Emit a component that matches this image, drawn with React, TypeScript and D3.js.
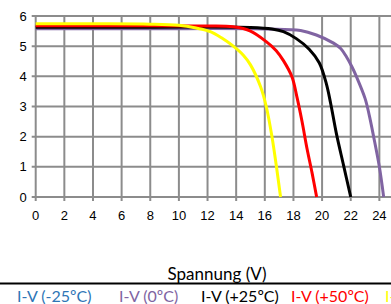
import React, { useEffect, useRef } from 'react';
import * as d3 from 'd3';

// I-V curves (voltage V, current A)
const voltsP75 = [0, 4, 8, 10, 11.2, 12.2, 13.0, 13.8, 14.5, 15.0, 15.7, 16.1, 16.5, 16.8, 17.1];
const ampsP75 = [5.74, 5.74, 5.73, 5.69, 5.6, 5.48, 5.27, 5.0, 4.7, 4.38, 3.66, 3.0, 2.0, 1.05, 0];

const voltsP50 = [0, 6, 12, 13.8, 15, 16.1, 16.8, 17.3, 17.9, 18.25, 18.6, 18.95, 19.3, 19.62];
const ampsP50 = [5.68, 5.68, 5.67, 5.64, 5.5, 5.15, 4.85, 4.52, 3.98, 3.3, 2.5, 1.6, 0.8, 0];

const voltsP25 = [0, 8, 15, 16.5, 17.3, 18.2, 19.1, 19.8, 20.3, 20.6, 21.0, 21.5, 22.0];
const ampsP25 = [5.63, 5.63, 5.62, 5.57, 5.48, 5.25, 4.9, 4.45, 3.75, 3.1, 2.1, 1.05, 0];

const volts0 = [0, 8, 16.1, 18.5, 19.6, 20.8, 21.3, 21.7, 22.1, 22.4, 23.0, 23.3, 23.6, 24.0, 24.3];
const amps0 = [5.58, 5.58, 5.57, 5.52, 5.37, 5.1, 4.92, 4.65, 4.3, 3.99, 3.27, 2.7, 2.0, 1.0, 0];

const legendLabels = ['I-V (-25ºC)', 'I-V (0ºC)', 'I-V (+25ºC)', 'I-V (+50ºC)', 'I-V (+75ºC)'];
const legendColors = ['#2E75B6', '#8064A2', '#000000', '#FF0000', '#FFFF00'];

const xTicks = [0, 2, 4, 6, 8, 10, 12, 14, 16, 18, 20, 22, 24, 26];
const yTicks = [0, 1, 2, 3, 4, 5, 6];

export default function App() {
  const ref = useRef<SVGSVGElement>(null);

  useEffect(() => {
    const svg = d3.select(ref.current);
    svg.selectAll('*').remove();

    const x = d3.scaleLinear().domain([0, 26]).range([35.7, 408]);
    const y = d3.scaleLinear().domain([0, 6]).range([197, 16]);

    const grid = '#8c8c8c';

    // grid
    svg.append('g')
      .selectAll('line.v')
      .data(xTicks)
      .enter()
      .append('line')
      .attr('x1', d => x(d))
      .attr('x2', d => x(d))
      .attr('y1', y(6))
      .attr('y2', y(0) + 4)
      .attr('stroke', grid)
      .attr('stroke-width', 2);

    svg.append('g')
      .selectAll('line.h')
      .data(yTicks)
      .enter()
      .append('line')
      .attr('x1', x(0) - 4)
      .attr('x2', 420)
      .attr('y1', d => y(d))
      .attr('y2', d => y(d))
      .attr('stroke', grid)
      .attr('stroke-width', 2);

    // tick labels (the axis runs on past the right edge, so 26 is dropped)
    svg.append('g')
      .selectAll('text')
      .data(xTicks.filter(d => x(d) < 385))
      .enter()
      .append('text')
      .attr('x', d => x(d))
      .attr('y', y(0) + 23)
      .attr('text-anchor', 'middle')
      .attr('font-family', 'Liberation Sans, Arial, sans-serif')
      .attr('font-size', 13)
      .attr('fill', '#000')
      .text(d => d);

    svg.append('g')
      .selectAll('text')
      .data(yTicks)
      .enter()
      .append('text')
      .attr('x', x(0) - 9)
      .attr('y', d => y(d) + 4.5)
      .attr('text-anchor', 'end')
      .attr('font-family', 'Liberation Sans, Arial, sans-serif')
      .attr('font-size', 13)
      .attr('fill', '#000')
      .text(d => d);

    const line = d3.line<[number, number]>()
      .x(d => x(d[0]))
      .y(d => y(d[1]))
      .curve(d3.curveCatmullRom.alpha(0.5));

    const series: [number[], number[], string][] = [
      [volts0, amps0, legendColors[1]],
      [voltsP25, ampsP25, legendColors[2]],
      [voltsP50, ampsP50, legendColors[3]],
      [voltsP75, ampsP75, legendColors[4]],
    ];

    series.forEach(([vs, as, color]) => {
      svg.append('path')
        .datum(vs.map((v, i) => [v, as[i]] as [number, number]))
        .attr('fill', 'none')
        .attr('stroke', color)
        .attr('stroke-width', 3)
        .attr('stroke-linejoin', 'round')
        .attr('d', line);
    });

    // axis title
    svg.append('text')
      .attr('x', 217)
      .attr('y', 280)
      .attr('text-anchor', 'middle')
      .attr('font-family', 'Lato, Carlito, Calibri, sans-serif')
      .attr('font-size', 17)
      .attr('fill', '#000')
      .text('Spannung (V)');

    // separator
    svg.append('line')
      .attr('x1', 0)
      .attr('x2', 391)
      .attr('y1', 283.5)
      .attr('y2', 283.5)
      .attr('stroke', '#000')
      .attr('stroke-width', 2);

    // legend (last entry runs off the right edge, as in the source)
    const legendX = [17, 119, 201, 291, 385];
    svg.append('g')
      .selectAll('text')
      .data(legendLabels)
      .enter()
      .append('text')
      .attr('x', (d, i) => legendX[i])
      .attr('y', 301.5)
      .attr('font-family', 'Lato, Carlito, Calibri, sans-serif')
      .attr('font-size', 16)
      .attr('fill', (d, i) => legendColors[i])
      .text(d => d);
  }, []);

  return (
    <svg
      ref={ref}
      width={391}
      height={304}
      style={{ position: 'absolute', left: 0, top: 0, background: '#fff' }}
    />
  );
}
